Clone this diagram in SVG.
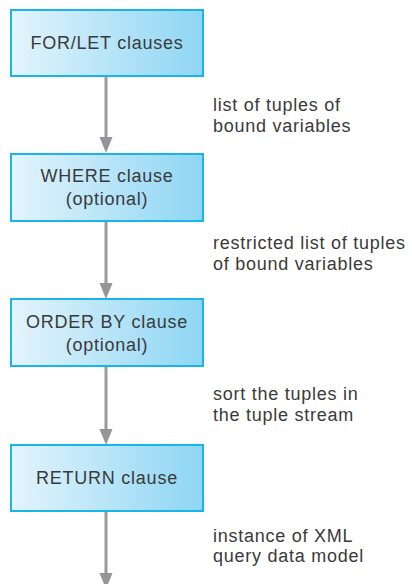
<svg xmlns="http://www.w3.org/2000/svg" width="412" height="584" viewBox="0 0 412 584">
<defs>
<linearGradient id="g" x1="0" y1="0" x2="1" y2="0">
<stop offset="0" stop-color="#e3f4fc"/>
<stop offset="1" stop-color="#8ed6f4"/>
</linearGradient>
<path id="head" d="M-6.5,-16 L6.5,-16 L0,0 Z" fill="#949499"/>
</defs>
<style>
.box{fill:url(#g);stroke:#19b4ec;stroke-width:2}
.t{font-family:"Liberation Sans",Arial,sans-serif;font-size:18px;fill:#3a3a3a;letter-spacing:0.75px}
.c{text-anchor:middle}
.e{stroke:#9a9a9e;stroke-width:3;fill:none}
</style>
<g id="connectors">
<line class="e" x1="106" y1="77" x2="106" y2="137"/>
<use href="#head" x="106" y="153"/>
<line class="e" x1="106" y1="222" x2="106" y2="283"/>
<use href="#head" x="106" y="299"/>
<line class="e" x1="106" y1="367" x2="106" y2="429"/>
<use href="#head" x="106" y="445"/>
<line class="e" x1="106" y1="512" x2="106" y2="574"/>
<use href="#head" x="106" y="589"/>
</g>
<g id="forlet">
<rect class="box" x="11" y="10" width="192" height="66"/>
<text class="t c" x="107" y="49">FOR/LET clauses</text>
</g>
<g id="where">
<rect class="box" x="11" y="154" width="192" height="67"/>
<text class="t c" x="107" y="182">WHERE clause</text>
<text class="t c" x="107" y="205">(optional)</text>
</g>
<g id="orderby">
<rect class="box" x="11" y="299" width="192" height="67"/>
<text class="t c" x="107" y="328">ORDER BY clause</text>
<text class="t c" x="107" y="351">(optional)</text>
</g>
<g id="return">
<rect class="box" x="11" y="445" width="192" height="66"/>
<text class="t c" x="107" y="484">RETURN clause</text>
</g>
<g id="labels">
<text class="t" x="213" y="111">list of tuples of</text>
<text class="t" x="213" y="132">bound variables</text>
<text class="t" x="213" y="249">restricted list of tuples</text>
<text class="t" x="213" y="270">of bound variables</text>
<text class="t" x="213" y="400">sort the tuples in</text>
<text class="t" x="213" y="421">the tuple stream</text>
<text class="t" x="213" y="542">instance of XML</text>
<text class="t" x="213" y="562">query data model</text>
</g>
</svg>
